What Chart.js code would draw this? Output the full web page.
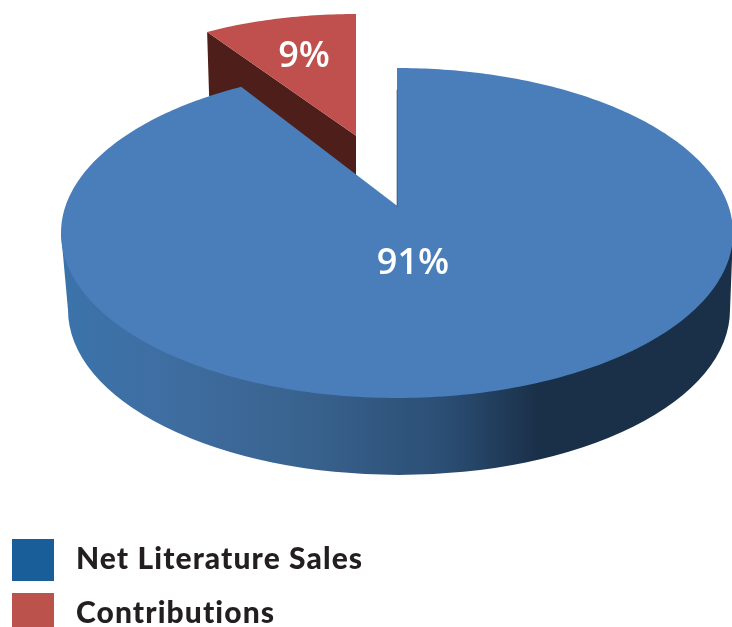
<!DOCTYPE html>
<html lang="en">
<head>
<meta charset="UTF-8">
<title>Net Literature Sales and Contributions</title>
<script src="https://cdn.jsdelivr.net/npm/chart.js"></script>
<style>
    html, body { margin: 0; padding: 0; width: 732px; height: 627px; overflow: hidden; background: #fff; }
    #wrap { position: relative; width: 732px; height: 627px; overflow: hidden; }
    canvas { display: block; }
    .key { position: absolute; left: 12px; display: flex; align-items: center; height: 42px; }
    .key i { display: block; width: 42px; height: 42px; margin-right: 22px; }
    .key span { font: 900 30px Lato, sans-serif; letter-spacing: 1.1px; color: #231f20; white-space: nowrap; position: relative; top: -3px; }
</style>
</head>
<body>
<div id="wrap">
    <canvas id="pie" width="732" height="627"></canvas>
    <div id="keys"></div>
</div>
<script>
    const categories = ['Net Literature Sales', 'Contributions'];
    const values = [91, 9];
    const sliceColors = ['#4a7ebb', '#bf504d'];
    const keyColors = ['#1a5e99', '#bc524c'];

    // where each slice face sits on the page (tilted disc seen in perspective)
    const faces = [
        { cx: 397, cy: 233, rx: 336, ry: 165, tilt: -0.165, labelX: 413, labelY: 264 },
        { cx: 356, cy: 145, rx: 295, ry: 131, tilt: -0.07, labelX: 304, labelY: 57 }
    ];
    // lower rim of the big slice
    const rim = { cx: 399, cy: 310, rx: 331, ry: 165 };
    const redDepth = { dx: 2, dy: 64 };

    // unit circle angle -> page position, the tilt moves the centre but keeps the rim on the ellipse
    function project(face, angle, r) {
        const u = r * Math.cos(angle);
        const v = r * Math.sin(angle);
        const d = 1 + face.tilt * v;
        return {
            x: face.cx + face.rx * u * Math.sqrt(1 - face.tilt * face.tilt) / d,
            y: face.cy + face.ry * (v + face.tilt) / d
        };
    }

    function tracePie(ctx, face, start, end) {
        const c = project(face, 0, 0);
        ctx.beginPath();
        ctx.moveTo(c.x, c.y);
        const steps = Math.ceil((end - start) * 60);
        for (let i = 0; i <= steps; i++) {
            const p = project(face, start + (end - start) * i / steps, 1);
            ctx.lineTo(p.x, p.y);
        }
        ctx.closePath();
    }

    function drawRim(ctx, face) {
        const g = ctx.createLinearGradient(rim.cx - rim.rx, 0, rim.cx + rim.rx, 0);
        g.addColorStop(0, '#3a73aa');
        g.addColorStop(0.14, '#3f6ea2');
        g.addColorStop(0.35, '#39638f');
        g.addColorStop(0.57, '#2b4e74');
        g.addColorStop(0.71, '#1a3049');
        g.addColorStop(1, '#1a3049');
        ctx.fillStyle = g;
        ctx.beginPath();
        ctx.moveTo(face.cx - face.rx, face.cy);
        ctx.lineTo(rim.cx - rim.rx, rim.cy);
        ctx.ellipse(rim.cx, rim.cy, rim.rx, rim.ry, 0, Math.PI, 0, true);
        ctx.lineTo(face.cx + face.rx, face.cy);
        ctx.closePath();
        ctx.fill();
    }

    const tiltedPie = {
        id: 'tiltedPie',
        beforeDatasetsDraw(chart) {
            const ctx = chart.ctx;
            const arcs = chart.getDatasetMeta(0).data;
            ctx.save();

            // small slice first, the big one overlaps its dark side
            const red = arcs[1];
            const a = project(faces[1], 0, 0);
            const b = project(faces[1], red.startAngle, 1);
            ctx.fillStyle = '#4e1e1a';
            ctx.beginPath();
            ctx.moveTo(a.x, a.y);
            ctx.lineTo(b.x, b.y);
            ctx.lineTo(b.x + redDepth.dx, b.y + redDepth.dy);
            ctx.lineTo(a.x, a.y + redDepth.dy);
            ctx.closePath();
            ctx.fill();
            tracePie(ctx, faces[1], red.startAngle, red.endAngle);
            ctx.fillStyle = sliceColors[1];
            ctx.fill();

            const blue = arcs[0];
            drawRim(ctx, faces[0]);
            tracePie(ctx, faces[0], blue.startAngle, blue.endAngle);
            ctx.fillStyle = sliceColors[0];
            ctx.fill();

            // thin shadow on the open edge of the notch
            const top = project(faces[0], blue.startAngle, 0.82);
            const mid = project(faces[0], 0, 0);
            ctx.strokeStyle = 'rgba(30, 60, 95, 0.55)';
            ctx.lineWidth = 1;
            ctx.beginPath();
            ctx.moveTo(top.x, top.y);
            ctx.lineTo(mid.x, mid.y + 1);
            ctx.stroke();

            // percentage labels
            ctx.fillStyle = '#fff';
            ctx.font = '600 36px "Open Sans", sans-serif';
            ctx.textAlign = 'center';
            ctx.textBaseline = 'middle';
            values.forEach((v, i) => ctx.fillText(v + '%', faces[i].labelX, faces[i].labelY));

            ctx.restore();
            return false; // skip the flat default arcs
        }
    };

    new Chart(document.getElementById('pie'), {
        type: 'pie',
        data: {
            labels: categories,
            datasets: [{ data: values, backgroundColor: sliceColors, borderWidth: 0 }]
        },
        options: {
            responsive: false,
            animation: false,
            devicePixelRatio: 1,
            plugins: { legend: { display: false }, tooltip: { enabled: false } }
        },
        plugins: [tiltedPie]
    });

    // legend
    const keyTops = [539, 593];
    const keys = document.getElementById('keys');
    categories.forEach((name, i) => {
        const row = document.createElement('div');
        row.className = 'key';
        row.style.top = keyTops[i] + 'px';
        const box = document.createElement('i');
        box.style.background = keyColors[i];
        const text = document.createElement('span');
        text.textContent = name;
        row.appendChild(box);
        row.appendChild(text);
        keys.appendChild(row);
    });
</script>
</body>
</html>
